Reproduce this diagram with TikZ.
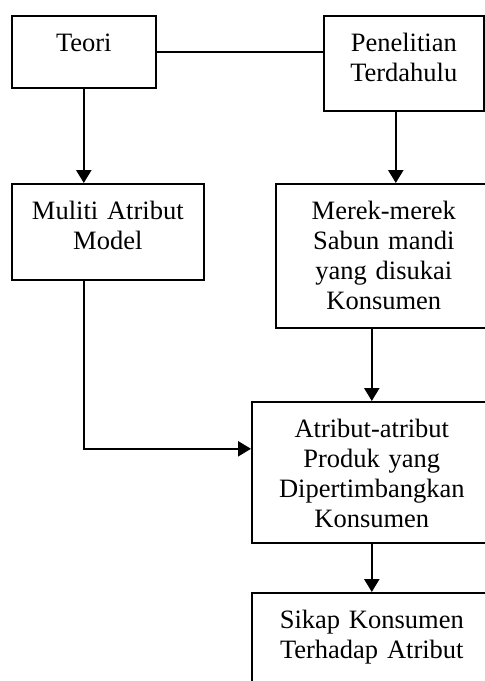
\documentclass[tikz,border=0pt]{standalone}
\usepackage{fontspec}
\setmainfont{Liberation Serif}
\usetikzlibrary{arrows.meta,positioning,calc}

\begin{document}
\begin{tikzpicture}[
  x=1pt, y=-1pt,
  box/.style={draw, line width=1.6pt, anchor=north west, inner sep=0pt, align=center,
    font=\fontsize{26.5}{30}\selectfont, text height=36pt},
  arr/.style={-{Triangle[length=13pt, width=15pt]}, line width=2.5pt}
]
\useasboundingbox (0,0) rectangle (485,681);
\clip (0,0) rectangle (485,681);
\node[box, text width=144pt, text depth=36pt] (teori) at (11,15) {Teori};
\node[box, text width=160pt, text depth=59pt] (pen) at (323,15) {Penelitian\\Terdahulu};
\node[box, text width=192pt, text depth=60pt] (multi) at (11,183) {Muliti Atribut\\Model};
\node[box, text width=216pt, text depth=108pt] (merek) at (275,183) {Merek-merek\\Sabun mandi\\yang disukai\\Konsumen};
\node[box, text width=240pt, text depth=105pt] (atribut) at (251,401) {Atribut-atribut\\Produk yang\\Dipertimbangkan\\Konsumen};
\node[box, text width=240pt, text depth=84pt] (sikap) at (251,592) {Sikap Konsumen\\Terhadap Atribut};

\draw[line width=1.6pt] (teori.east) -- (teori.east -| pen.west);
\draw[arr] (teori.south) -- (teori.south |- multi.north);
\draw[arr] ([xshift=-8pt]pen.south) -- ([xshift=-8pt]pen.south |- merek.north);
\draw[arr] (merek.south -| atribut.north) -- (atribut.north);
\draw[arr] (multi.south -| teori.south) |- ([yshift=23.5pt]atribut.west);
\draw[arr] (atribut.south) -- (sikap.north);
\end{tikzpicture}
\end{document}
